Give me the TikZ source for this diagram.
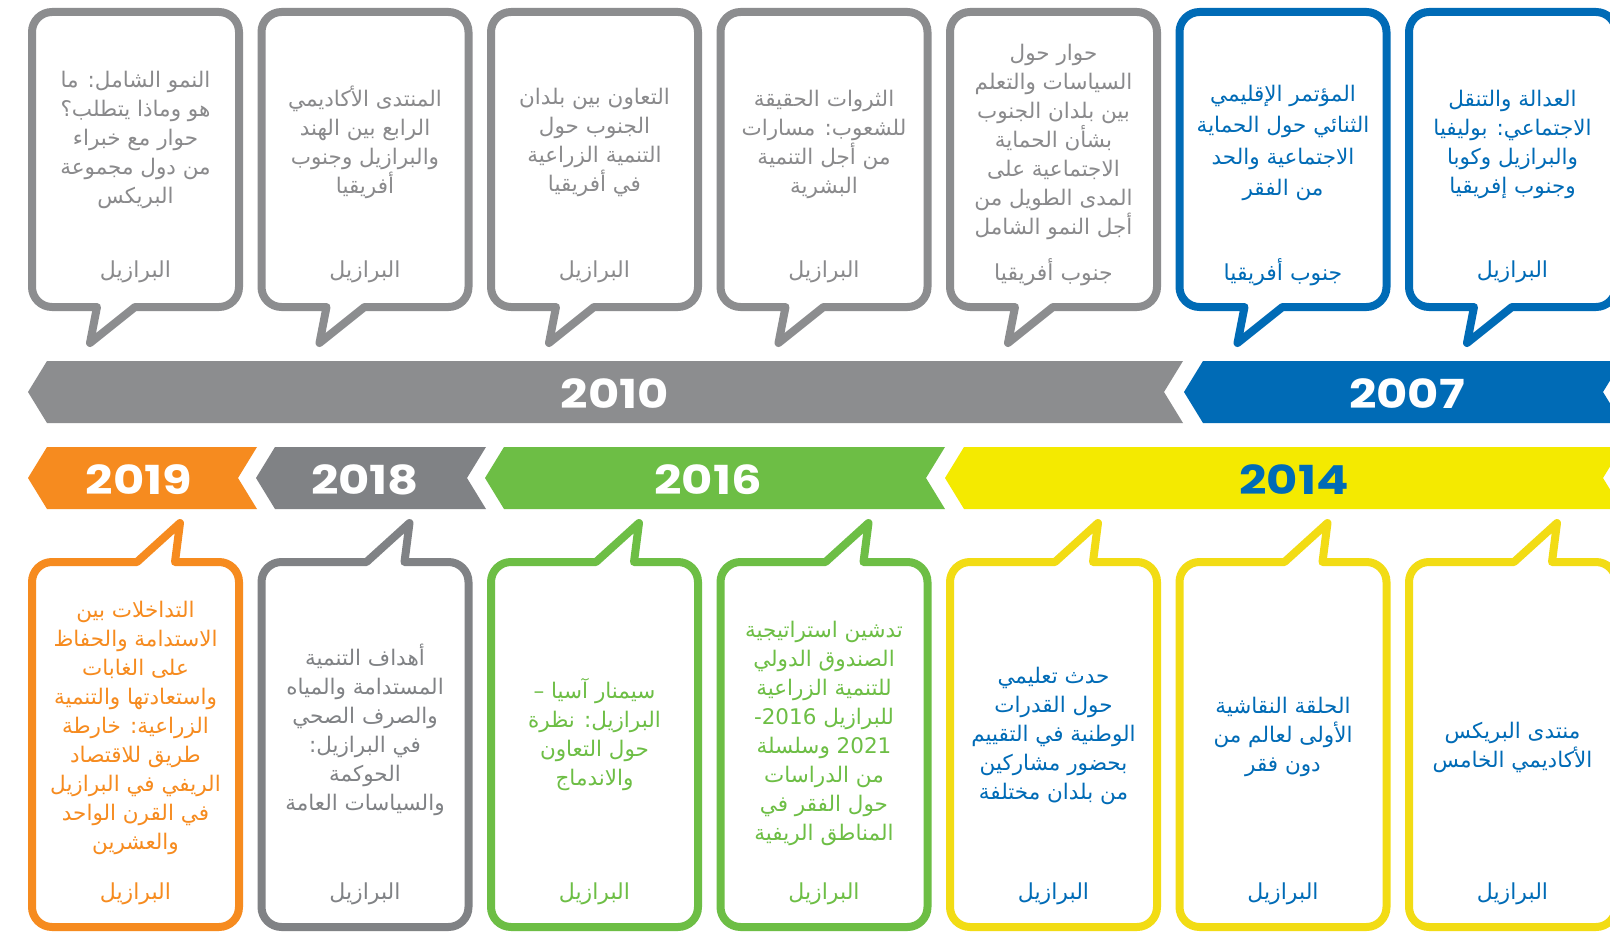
\documentclass[tikz,border=0pt]{standalone}
\usepackage{fontspec}
\usepackage{graphicx}
\TeXXeTstate=1
\newfontfamily\arabicfont[Script=Arabic]{DejaVu Sans}
\newfontfamily\yearfont{Poppins}
\definecolor{cgray}{HTML}{8C8D8F}
\definecolor{cgrayt}{HTML}{8A8A8C}
\definecolor{cblue}{HTML}{006BB6}
\definecolor{corange}{HTML}{F68B1F}
\definecolor{cgreen}{HTML}{6DBE45}
\definecolor{cyellow}{HTML}{F4EA00}
\definecolor{cyellowb}{HTML}{F2DC14}
\definecolor{cdgray}{HTML}{808285}
\newcommand\AR[1]{\beginR #1\endR}
\newcommand\LR[1]{\beginL #1\endL}
\newcommand\YR[1]{\scalebox{1.2}[1]{#1}}
% top bubble: #1 = left (centre line), #2 = colour
\newcommand\bubtop[2]{%
\draw[bubble,draw=#2] ({#1+65},307) -- ({#1+58},343) -- ({#1+103},307)
 -- ({#1+187},307) .. controls ({#1+198},307) and ({#1+207},298) .. ({#1+207},287)
 -- ({#1+207},32) .. controls ({#1+207},21) and ({#1+198},12) .. ({#1+187},12)
 -- ({#1+20},12) .. controls ({#1+9},12) and (#1,21) .. (#1,32)
 -- (#1,287) .. controls (#1,298) and ({#1+9},307) .. ({#1+20},307) -- cycle;}
% bottom bubble
\newcommand\bubbot[2]{%
\draw[bubble,draw=#2] ({#1+105},562) -- ({#1+148},523) -- ({#1+143},562)
 -- ({#1+187},562) .. controls ({#1+198},562) and ({#1+207},571) .. ({#1+207},582)
 -- ({#1+207},907) .. controls ({#1+207},918) and ({#1+198},927) .. ({#1+187},927)
 -- ({#1+20},927) .. controls ({#1+9},927) and (#1,918) .. (#1,907)
 -- (#1,582) .. controls (#1,571) and ({#1+9},562) .. ({#1+20},562) -- cycle;}
% band segment: #1 left tip x, #2 right top x, #3 top y, #4 bottom y, #5 colour
\newcommand\band[5]{%
\fill[#5] (#1,{(#3+#4)/2}) -- ({#1+19},#3) -- (#2,#3) -- ({#2-19},{(#3+#4)/2})
 -- (#2,#4) -- ({#1+19},#4) -- cycle;}
\begin{document}
\begin{tikzpicture}[x=1pt,y=-1pt,line join=round,
  bubble/.style={line width=8pt,fill=white},
  evt/.style={font=\arabicfont\fontsize{21.5}{29}\selectfont,align=center,inner sep=0pt},
  loc/.style={font=\arabicfont\fontsize{22}{29}\selectfont,inner sep=0pt},
  yr/.style={font=\yearfont\bfseries\fontsize{40}{40}\selectfont,inner sep=0pt}]
\useasboundingbox (0,0) rectangle (1610,934);
\fill[white] (0,0) rectangle (1610,934);

% ---------- top bubbles ----------
\bubtop{32}{cgray}
\bubtop{261.5}{cgray}
\bubtop{491}{cgray}
\bubtop{720.5}{cgray}
\bubtop{950}{cgray}
\bubtop{1179.5}{cblue}
\bubtop{1409}{cblue}

\node[evt,text=cgrayt] (t1) at (135.5,140) {\AR{النمو الشامل: ما}\\\AR{هو وماذا يتطلب؟}\\\AR{حوار مع خبراء}\\\AR{من دول مجموعة}\\\AR{البريكس}};
\node[evt,text=cgrayt] (t2) at (365,142.5) {\AR{المنتدى الأكاديمي}\\\AR{الرابع بين الهند}\\\AR{والبرازيل وجنوب}\\\AR{أفريقيا}};
\node[evt,text=cgrayt] (t3) at (594.5,142) {\AR{التعاون بين بلدان}\\\AR{الجنوب حول}\\\AR{التنمية الزراعية}\\\AR{في أفريقيا}};
\node[evt,text=cgrayt] (t4) at (824,144) {\AR{الثروات الحقيقة}\\\AR{للشعوب: مسارات}\\\AR{من أجل التنمية}\\\AR{البشرية}};
\node[evt,text=cgrayt] (t5) at (1053.5,142) {\AR{حوار حول}\\\AR{السياسات والتعلم}\\\AR{بين بلدان الجنوب}\\\AR{بشأن الحماية}\\\AR{الاجتماعية على}\\\AR{المدى الطويل من}\\\AR{أجل النمو الشامل}};
\node[evt,text=cblue,font=\arabicfont\fontsize{21.5}{31.5}\selectfont] (t6) at (1283,143) {\AR{المؤتمر الإقليمي}\\\AR{الثنائي حول الحماية}\\\AR{الاجتماعية والحد}\\\AR{من الفقر}};
\node[evt,text=cblue] (t7) at (1512.5,144) {\AR{العدالة والتنقل}\\\AR{الاجتماعي: بوليفيا}\\\AR{والبرازيل وكوبا}\\\AR{وجنوب إفريقيا}};

\node[loc,text=cgrayt] (l1) at (135.5,272) {\AR{البرازيل}};
\node[loc,text=cgrayt] (l2) at (365,272) {\AR{البرازيل}};
\node[loc,text=cgrayt] (l3) at (594.5,272) {\AR{البرازيل}};
\node[loc,text=cgrayt] (l4) at (824,272) {\AR{البرازيل}};
\node[loc,text=cgrayt] (l5) at (1053.5,272) {\AR{جنوب أفريقيا}};
\node[loc,text=cblue] (l6) at (1283,272) {\AR{جنوب أفريقيا}};
\node[loc,text=cblue] (l7) at (1512.5,272) {\AR{البرازيل}};

% ---------- bands ----------
\band{28}{1183}{361}{423}{cgray}
\band{1184}{1622}{361}{423}{cblue}
\band{28}{257}{447}{509}{corange}
\band{256}{486}{447}{509}{cdgray}
\band{485}{945}{447}{509}{cgreen}
\band{945}{1622}{447}{509}{cyellow}

\node[yr,text=white] (y2010) at (615,394) {\YR{2010}};
\node[yr,text=white] (y2007) at (1407,394) {\YR{2007}};
\node[yr,text=white] (y2019) at (139,480) {\YR{2019}};
\node[yr,text=white] (y2018) at (365,480) {\YR{2018}};
\node[yr,text=white] (y2016) at (708,480) {\YR{2016}};
\node[yr,text=cblue] (y2014) at (1294,480) {\YR{2014}};

% ---------- bottom bubbles ----------
\bubbot{32}{corange}
\bubbot{261.5}{cdgray}
\bubbot{491}{cgreen}
\bubbot{720.5}{cgreen}
\bubbot{950}{cyellowb}
\bubbot{1179.5}{cyellowb}
\bubbot{1409}{cyellowb}

\node[evt,text=corange] (b1) at (135.5,728) {\AR{التداخلات بين}\\\AR{الاستدامة والحفاظ}\\\AR{على الغابات}\\\AR{واستعادتها والتنمية}\\\AR{الزراعية: خارطة}\\\AR{طريق للاقتصاد}\\\AR{الريفي في البرازيل}\\\AR{في القرن الواحد}\\\AR{والعشرين}};
\node[evt,text=cdgray] (b2) at (365,729.5) {\AR{أهداف التنمية}\\\AR{المستدامة والمياه}\\\AR{والصرف الصحي}\\\AR{في البرازيل:}\\\AR{الحوكمة}\\\AR{والسياسات العامة}};
\node[evt,text=cgreen] (b3) at (594.5,734.5) {\AR{سيمنار آسيا –}\\\AR{البرازيل: نظرة}\\\AR{حول التعاون}\\\AR{والاندماج}};
\node[evt,text=cgreen] (b4) at (824,733.5) {\AR{تدشين استراتيجية}\\\AR{الصندوق الدولي}\\\AR{للتنمية الزراعية}\\\AR{للبرازيل \LR{2016}-}\\\AR{\LR{2021} وسلسلة}\\\AR{من الدراسات}\\\AR{حول الفقر في}\\\AR{المناطق الريفية}};
\node[evt,text=cblue] (b5) at (1053.5,735.5) {\AR{حدث تعليمي}\\\AR{حول القدرات}\\\AR{الوطنية في التقييم}\\\AR{بحضور مشاركين}\\\AR{من بلدان مختلفة}};
\node[evt,text=cblue] (b6) at (1283,737) {\AR{الحلقة النقاشية}\\\AR{الأولى لعالم من}\\\AR{دون فقر}};
\node[evt,text=cblue] (b7) at (1512.5,747.5) {\AR{منتدى البريكس}\\\AR{الأكاديمي الخامس}};

\node[loc,text=corange] (m1) at (135.5,894) {\AR{البرازيل}};
\node[loc,text=cdgray] (m2) at (365,894) {\AR{البرازيل}};
\node[loc,text=cgreen] (m3) at (594.5,894) {\AR{البرازيل}};
\node[loc,text=cgreen] (m4) at (824,894) {\AR{البرازيل}};
\node[loc,text=cblue] (m5) at (1053.5,894) {\AR{البرازيل}};
\node[loc,text=cblue] (m6) at (1283,894) {\AR{البرازيل}};
\node[loc,text=cblue] (m7) at (1512.5,894) {\AR{البرازيل}};
\end{tikzpicture}
\end{document}
